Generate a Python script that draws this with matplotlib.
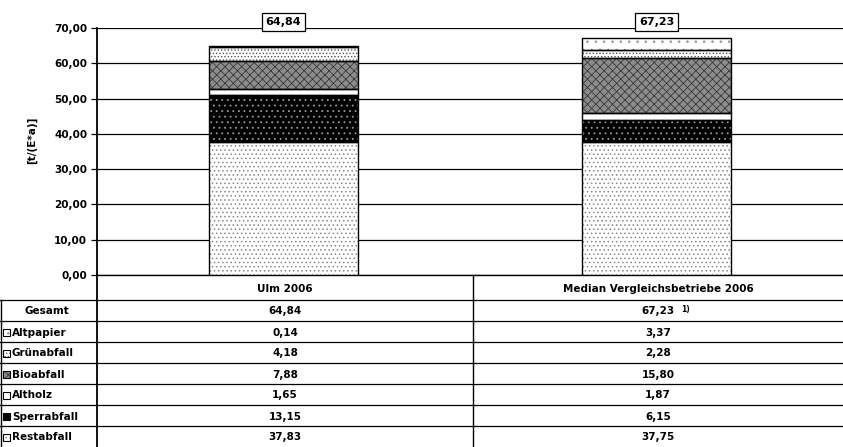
import matplotlib
matplotlib.use("Agg")
import matplotlib.pyplot as plt
from matplotlib.patches import Rectangle
import numpy as np

plt.rcParams["font.family"] = ["DejaVu Sans"]
plt.rcParams["font.weight"] = "bold"
plt.rcParams["hatch.linewidth"] = 0.6

# data (bottom -> top of the stack)
categories = ["Ulm 2006", "Median Vergleichsbetriebe 2006"]
fractions = ["Restabfall", "Sperrabfall", "Altholz", "Bioabfall", "Grünabfall", "Altpapier"]
ulm = [37.83, 13.15, 1.65, 7.88, 4.18, 0.14]
median = [37.75, 6.15, 1.87, 15.80, 2.28, 3.37]
totals = [64.84, 67.23]
table_rows = ["Altpapier", "Grünabfall", "Bioabfall", "Altholz", "Sperrabfall", "Restabfall"]

# styles: face, hatch, hatch colour
styles = {
    "Restabfall": ("white", "....", "#888888"),
    "Sperrabfall": ("black", "...", "#9a9a9a"),
    "Altholz": ("white", None, "white"),
    "Bioabfall": ("#8c8c8c", "xxxx", "#3a3a3a"),
    "Grünabfall": ("white", ".....", "#555555"),
    "Altpapier": ("white", "..", "#999999"),
}


def fmt(v):
    return f"{v:.2f}".replace(".", ",")


W, H = 843, 447
fig = plt.figure(figsize=(W / 100, H / 100), dpi=100)

# pixel geometry
ax_left, ax_right, ax_top, ax_bottom = 97, 843, 28, 275
ax = fig.add_axes([ax_left / W, 1 - ax_bottom / H,
                   (ax_right - ax_left) / W, (ax_bottom - ax_top) / H])

x = np.arange(len(categories))
width = 0.40
series = np.array([ulm, median]).T
bottom = np.zeros(len(categories))
for name, vals in zip(fractions, series):
    face, hatch, hcol = styles[name]
    ax.bar(x, vals, width, bottom=bottom, color=face, hatch=hatch,
           edgecolor=hcol, linewidth=0, zorder=3)
    ax.bar(x, vals, width, bottom=bottom, fill=False,
           edgecolor="black", linewidth=1.0, zorder=4)
    bottom += vals

for xi, t in zip(x, totals):
    ax.text(xi, 71.7, fmt(t), ha="center", va="center", fontsize=8,
            bbox=dict(boxstyle="square,pad=0.35", fc="white", ec="black", lw=0.9),
            zorder=5, clip_on=False)

ax.set_xlim(-0.5, 1.5)
ax.set_ylim(0, 70)
ax.set_yticks(np.arange(0, 71, 10))
ax.set_yticklabels([fmt(v) for v in np.arange(0, 71, 10)], fontsize=7.5)
ax.set_xticks([])
ax.yaxis.grid(True, color="black", linewidth=0.9)
ax.set_axisbelow(True)
ax.tick_params(axis="y", length=4, width=0.9, pad=3)
for s in ["top", "right"]:
    ax.spines[s].set_visible(False)
ax.spines["left"].set_linewidth(1.3)
ax.spines["bottom"].set_linewidth(1.0)

fig.text(32 / W, 1 - 140 / H, "[t/(E*a)]", rotation=90, ha="center",
         va="center", fontsize=7.5)

# data table below the chart, drawn on a pixel-space overlay
tab = fig.add_axes([0, 0, 1, 1], facecolor="none")
tab.set_xlim(0, W)
tab.set_ylim(H, 0)
tab.axis("off")

col_div = 473
col_centres = [(ax_left + col_div) / 2, (col_div + W) / 2]
head_bottom = 300
row_h = 21

# vertical lines
tab.plot([ax_left, ax_left], [ax_bottom, H], color="black", lw=1.3)
tab.plot([col_div, col_div], [ax_bottom, H], color="black", lw=1.0)
tab.plot([1, 1], [head_bottom, H], color="black", lw=1.0)

# header
for cx, cat in zip(col_centres, categories):
    tab.text(cx, (ax_bottom + head_bottom) / 2 + 1, cat, ha="center",
             va="center", fontsize=7.5)

row_labels = ["Gesamt"] + table_rows
row_vals = [totals] + [[ulm[fractions.index(r)], median[fractions.index(r)]]
                       for r in table_rows]
for i, (lab, vals) in enumerate(zip(row_labels, row_vals)):
    top = head_bottom + i * row_h
    tab.plot([0, W], [top, top], color="black", lw=0.9)
    cy = top + row_h / 2 + 1
    if lab == "Gesamt":
        tab.text(47, cy, lab, ha="center", va="center", fontsize=7.5)
    else:
        face, hatch, hcol = styles[lab]
        if lab == "Sperrabfall":
            hatch = None
        tab.add_patch(Rectangle((3, cy - 4), 7, 7, facecolor=face, hatch=hatch,
                                edgecolor=hcol, linewidth=0))
        tab.add_patch(Rectangle((3, cy - 4), 7, 7, fill=False,
                                edgecolor="black", linewidth=0.8))
        tab.text(12, cy, lab, ha="left", va="center", fontsize=7.5)
    for cx, v in zip(col_centres, vals):
        tab.text(cx, cy, fmt(v), ha="center", va="center", fontsize=7.5)
    if lab == "Gesamt":
        tab.text(col_centres[1] + 23, cy - 2, "1)", ha="left", va="center",
                 fontsize=5.5)

fig.savefig("out.png", dpi=100)
